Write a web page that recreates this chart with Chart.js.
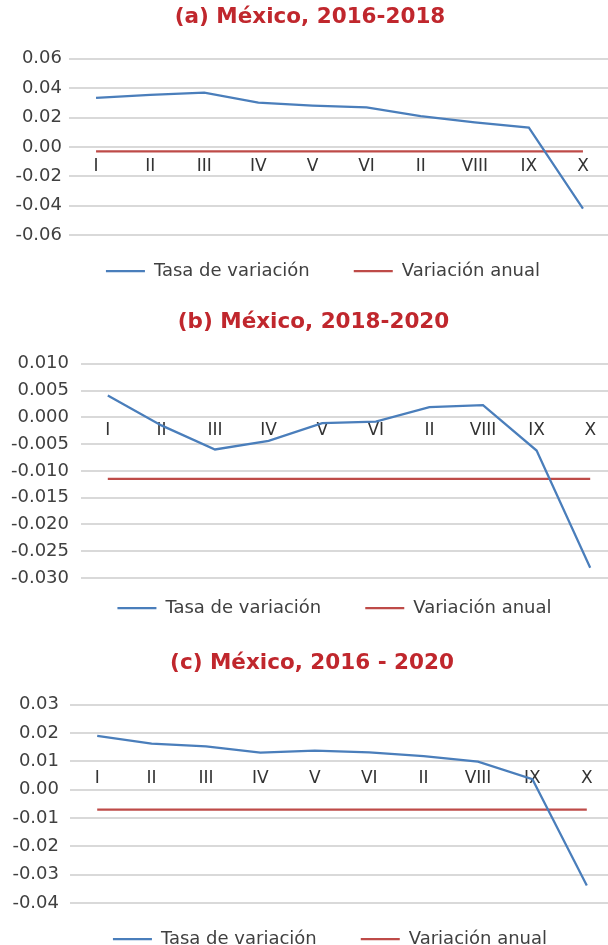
<!DOCTYPE html>
<html>
<head>
<meta charset="utf-8">
<script src="https://cdn.jsdelivr.net/npm/chart.js@4.4.0/dist/chart.umd.min.js"></script>
<style>
  html, body { margin: 0; padding: 0; background: #fff; }
  body { width: 608px; height: 945px; overflow: hidden; position: relative; }
  .panel { position: absolute; left: 0; width: 632px; }
</style>
</head>
<body>
<div class="panel" style="top:1px;height:306px"><canvas id="chartA"></canvas></div>
<div class="panel" style="top:301px;height:349px"><canvas id="chartB"></canvas></div>
<div class="panel" style="top:642px;height:333px"><canvas id="chartC"></canvas></div>
<script>
var categories = ['I', 'II', 'III', 'IV', 'V', 'VI', 'II', 'VIII', 'IX', 'X'];

// (a) México, 2016-2018
var tasaA = [0.0334, 0.0354, 0.0370, 0.0301, 0.0281, 0.0269, 0.0210, 0.0167, 0.0132, -0.0420];
var anualA = [-0.003, -0.003, -0.003, -0.003, -0.003, -0.003, -0.003, -0.003, -0.003, -0.003];
var ticksA = [-0.06, -0.04, -0.02, 0, 0.02, 0.04, 0.06];

// (b) México, 2018-2020
var tasaB = [0.0041, -0.0015, -0.0060, -0.0044, -0.0011, -0.0008, 0.0019, 0.0023, -0.0062, -0.0281];
var anualB = [-0.0115, -0.0115, -0.0115, -0.0115, -0.0115, -0.0115, -0.0115, -0.0115, -0.0115, -0.0115];
var ticksB = [-0.03, -0.025, -0.02, -0.015, -0.01, -0.005, 0, 0.005, 0.01];

// (c) México, 2016 - 2020
var tasaC = [0.0190, 0.0163, 0.0153, 0.0131, 0.0138, 0.0132, 0.0119, 0.0099, 0.0037, -0.0338];
var anualC = [-0.007, -0.007, -0.007, -0.007, -0.007, -0.007, -0.007, -0.007, -0.007, -0.007];
var ticksC = [-0.04, -0.03, -0.02, -0.01, 0, 0.01, 0.02, 0.03];

Chart.defaults.font.family = 'DejaVu Sans';

function makeChart(canvasId, title, tasa, anual, yTicks, decimals, s) {
    var ctx = document.getElementById(canvasId).getContext('2d');
    return new Chart(ctx, {
        type: 'line',
        data: {
            labels: categories,
            datasets: [
                {
                    label: 'Tasa de variación',
                    data: tasa,
                    borderColor: '#4A7EBB',
                    backgroundColor: '#4A7EBB',
                    borderWidth: 2.25,
                    pointRadius: 0,
                    tension: 0
                },
                {
                    label: 'Variación anual',
                    data: anual,
                    borderColor: '#BE4B48',
                    backgroundColor: '#BE4B48',
                    borderWidth: 2.25,
                    pointRadius: 0,
                    tension: 0
                }
            ]
        },
        options: {
            responsive: true,
            maintainAspectRatio: false,
            animation: false,
            layout: { padding: { left: 10, right: s.padRight, top: 0, bottom: 0 } },
            plugins: {
                title: {
                    display: true,
                    text: title,
                    color: '#C0272D',
                    font: { size: 21.5, weight: 'bold' },
                    padding: { top: s.titleTop, bottom: s.titleBottom }
                },
                legend: {
                    position: 'bottom',
                    labels: {
                        usePointStyle: true,
                        pointStyle: 'line',
                        pointStyleWidth: 39,
                        padding: 44,
                        color: '#404040',
                        font: { size: 18 }
                    }
                },
                tooltip: { enabled: false }
            },
            scales: {
                x: {
                    type: 'category',
                    position: { y: s.xAt },   // labels sit on the crossing line, like Excel
                    offset: true,
                    grid: { display: false, drawTicks: false },
                    border: { display: false },
                    ticks: { autoSkip: false, maxRotation: 0, padding: s.xPad, color: '#333333', font: { size: 17 } },
                    afterFit: function (sc) { sc.height = 0; }
                },
                y: {
                    min: yTicks[0],
                    max: yTicks[yTicks.length - 1],
                    grid: { color: '#D9D9D9', lineWidth: 2, drawTicks: false },
                    border: { display: false },
                    ticks: {
                        padding: s.yPad,
                        color: '#404040',
                        font: { size: 18 },
                        callback: function (v) { return Number(v).toFixed(decimals); }
                    },
                    afterBuildTicks: function (sc) {
                        sc.ticks = yTicks.map(function (v) { return { value: v }; });
                    },
                    afterFit: function (sc) { sc.width = s.yWidth; }
                }
            }
        },
        plugins: [{
            // wide gap between legend items but legend kept close to the plot
            id: 'legendNudge',
            afterLayout: function (chart) {
                var lg = chart.legend;
                lg.left += s.legDx; lg.right += s.legDx;
                lg.top += s.legDy; lg.bottom += s.legDy;
            }
        }]
    });
}

makeChart('chartA', '(a) México, 2016-2018', tasaA, anualA, ticksA, 2,
    { padRight: 22, titleTop: 4, titleBottom: 28, xAt: 0, xPad: 9, yPad: 7, yWidth: 59, legDx: 13, legDy: -17 });
makeChart('chartB', '(b) México, 2018-2020', tasaB, anualB, ticksB, 3,
    { padRight: 15, titleTop: 9, titleBottom: 28, xAt: 0, xPad: 3, yPad: 12, yWidth: 71, legDx: 21, legDy: -23 });
makeChart('chartC', '(c) México, 2016 - 2020', tasaC, anualC, ticksC, 2,
    { padRight: 18, titleTop: 9, titleBottom: 28, xAt: 0.01, xPad: 7, yPad: 11, yWidth: 60, legDx: 18, legDy: -17 });
</script>
</body>
</html>
